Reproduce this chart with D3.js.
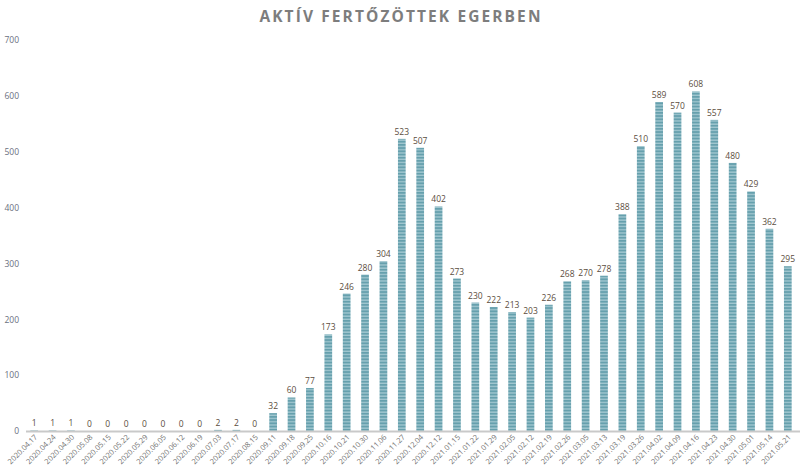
<!DOCTYPE html>
<html><head><meta charset="utf-8">
<script src="https://cdn.jsdelivr.net/npm/d3@7"></script>
<style>body{margin:0;background:#fff;} svg{display:block;}</style>
</head><body>
<script>
const categories = ["2020.04.17","2020.04.24","2020.04.30","2020.05.08","2020.05.15","2020.05.22","2020.05.29","2020.06.05","2020.06.12","2020.06.19","2020.07.03","2020.07.17","2020.08.15","2020.09.11","2020.09.18","2020.09.25","2020.10.16","2020.10.21","2020.10.30","2020.11.06","2020.11.27","2020.12.04","2020.12.12","2021.01.15","2021.01.22","2021.01.29","2021.02.05","2021.02.12","2021.02.19","2021.02.26","2021.03.05","2021.03.13","2021.03.19","2021.03.26","2021.04.02","2021.04.09","2021.04.16","2021.04.23","2021.04.30","2021.05.01","2021.05.14","2021.05.21"];
const values = [1,1,1,0,0,0,0,0,0,0,2,2,0,32,60,77,173,246,280,304,523,507,402,273,230,222,213,203,226,268,270,278,388,510,589,570,608,557,480,429,362,295];
const yTicks = [0,100,200,300,400,500,600,700];
const title = "AKTÍV FERTŐZÖTTEK EGERBEN";

const W = 800, H = 476;
const svg = d3.select("body").append("svg").attr("width", W).attr("height", H);
const defs = svg.append("defs");
const pat = defs.append("pattern").attr("id","stripes").attr("patternUnits","userSpaceOnUse")
  .attr("width", 10).attr("height", 3.2);
pat.append("rect").attr("width",10).attr("height",3.2).attr("fill","#66a0ad");
pat.append("rect").attr("y",1.9).attr("width",10).attr("height",1.3).attr("fill","#a3c8d1");

const x = d3.scaleBand().domain(categories).range([25, 797]).paddingInner(0.58).paddingOuter(0.29);
const y = d3.scaleLinear().domain([0, 700]).range([431, 40]);

svg.append("text").attr("x", 401).attr("y", 22).attr("text-anchor","middle")
  .attr("font-family","'Open Sans', sans-serif").attr("font-weight","bold").attr("font-size",15.5)
  .attr("letter-spacing", 2.1).attr("fill","#7d7d7d").text(title);

// y axis labels
const yAxis = d3.axisLeft(y).tickValues(yTicks).tickSize(0).tickPadding(0);
const yg = svg.append("g").attr("transform","translate(19,0)").call(yAxis);
yg.select(".domain").remove();
yg.selectAll("text").attr("font-family","'Open Sans', sans-serif").attr("font-size",8.5).attr("fill","#6a7080");

// bars
svg.append("g").selectAll("rect").data(values).join("rect")
  .attr("x",(d,i)=>x(categories[i])).attr("width",x.bandwidth())
  .attr("y",d=>y(d)).attr("height",d=>y(0)-y(d))
  .attr("fill","url(#stripes)");

// baseline
svg.append("line").attr("x1",26).attr("x2",800).attr("y1",y(0)+0.5).attr("y2",y(0)+0.5)
  .attr("stroke","#c9c9c9").attr("stroke-width",2);

// value labels
svg.append("g").selectAll("text").data(values).join("text")
  .attr("x",(d,i)=>x(categories[i])+x.bandwidth()/2).attr("y",d=>y(d)-4)
  .attr("text-anchor","middle").attr("font-family","'Open Sans', sans-serif").attr("font-size",8.5)
  .attr("fill","#5b4d40").text(d=>d);

// x axis labels
const xAxis = d3.axisBottom(x).tickSize(0).tickPadding(0);
const xg = svg.append("g").attr("transform",`translate(0,${y(0)+5})`).call(xAxis);
xg.select(".domain").remove();
xg.selectAll("text").attr("font-family","'Open Sans', sans-serif").attr("font-size",7.5).attr("fill","#707070")
  .attr("text-anchor","end").attr("dy","0.5em").attr("dx","0.2em").attr("transform","rotate(-45)");
</script>
</body></html>
